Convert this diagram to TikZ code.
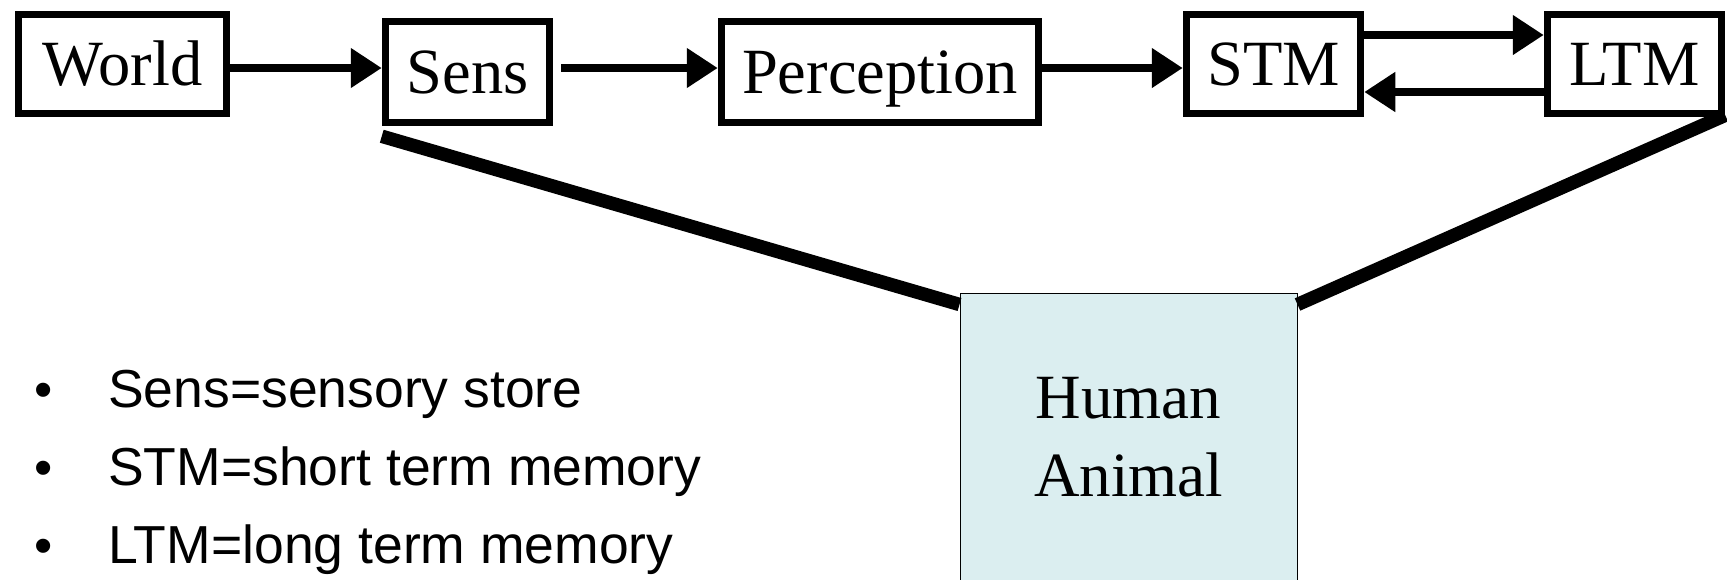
\documentclass[tikz,border=0pt]{standalone}
\usepackage{fontspec}
\setmainfont{Liberation Serif}
\newfontfamily\arialfont{Liberation Sans}
\usetikzlibrary{arrows.meta,calc}
\definecolor{humanfill}{RGB}{219,238,240}
\begin{document}
\begin{tikzpicture}[x=1pt,y=-1pt,
  box/.style={draw, line width=7.5pt, inner sep=0pt, fill=white,
    font=\fontsize{64.5}{64.5}\selectfont, text height=43pt, text depth=0pt},
  arr/.style={line width=8pt, -{Triangle[length=31pt,width=38pt]}},
  link/.style={line width=13.5pt},
  humanbox/.style={draw=black, line width=1pt, fill=humanfill, inner sep=0pt,
    align=center, font=\fontsize{63}{78}\selectfont},
  bulletmark/.style={inner sep=0pt, font=\arialfont\fontsize{52}{52}\selectfont},
  itemtext/.style={inner sep=0pt, font=\arialfont\fontsize{53.5}{53.5}\selectfont}
]
\useasboundingbox (0,0) rectangle (1727,579);
\clip (0,0) rectangle (1727,579);

% boxes
\node[box, minimum width=208pt, minimum height=99pt] (World) at (122.5,64) {World};
\node[box, minimum width=164pt, minimum height=101pt] (Sens) at (467.5,72) {Sens};
\node[box, minimum width=317pt, minimum height=101pt] (Perception) at (880,72) {Perception};
\node[box, minimum width=174pt, minimum height=99pt] (STM) at (1273.5,64) {STM};
\node[box, minimum width=174pt, minimum height=99pt] (LTM) at (1634.5,64) {LTM};

% links to Human Animal
\node[humanbox, minimum width=337pt, minimum height=288pt] (Human) at (1128.5,437) {Human\\Animal};
\draw[link] ([yshift=-10pt]Sens.south west) -- ([yshift=-12pt]Human.north west);
\draw[link] ([yshift=2pt]LTM.south east) -- ([yshift=-12pt]Human.north east);

% arrows
\coordinate (yA) at (0,68);
\coordinate (yB) at (0,35);
\coordinate (yC) at (0,92);
\draw[arr] (World.east |- yA) -- (Sens.west |- yA);
\draw[arr] ($(Sens.east |- yA)+(8,0)$) -- (Perception.west |- yA);
\draw[arr] (Perception.east |- yA) -- (STM.west |- yA);
\draw[arr] (STM.east |- yB) -- (LTM.west |- yB);
\draw[arr] (LTM.west |- yC) -- (STM.east |- yC);

% bullet list
\node[bulletmark, anchor=base] (b1) at (44,407.5) {•};
\node[itemtext, anchor=base west] (t1) at (108,407.5) {Sens=sensory store};
\node[bulletmark, anchor=base] (b2) at (44,485.5) {•};
\node[itemtext, anchor=base west] (t2) at (108,485.5) {STM=short term memory};
\node[bulletmark, anchor=base] (b3) at (44,563) {•};
\node[itemtext, anchor=base west] (t3) at (108,563) {LTM=long term memory};
\end{tikzpicture}
\end{document}
